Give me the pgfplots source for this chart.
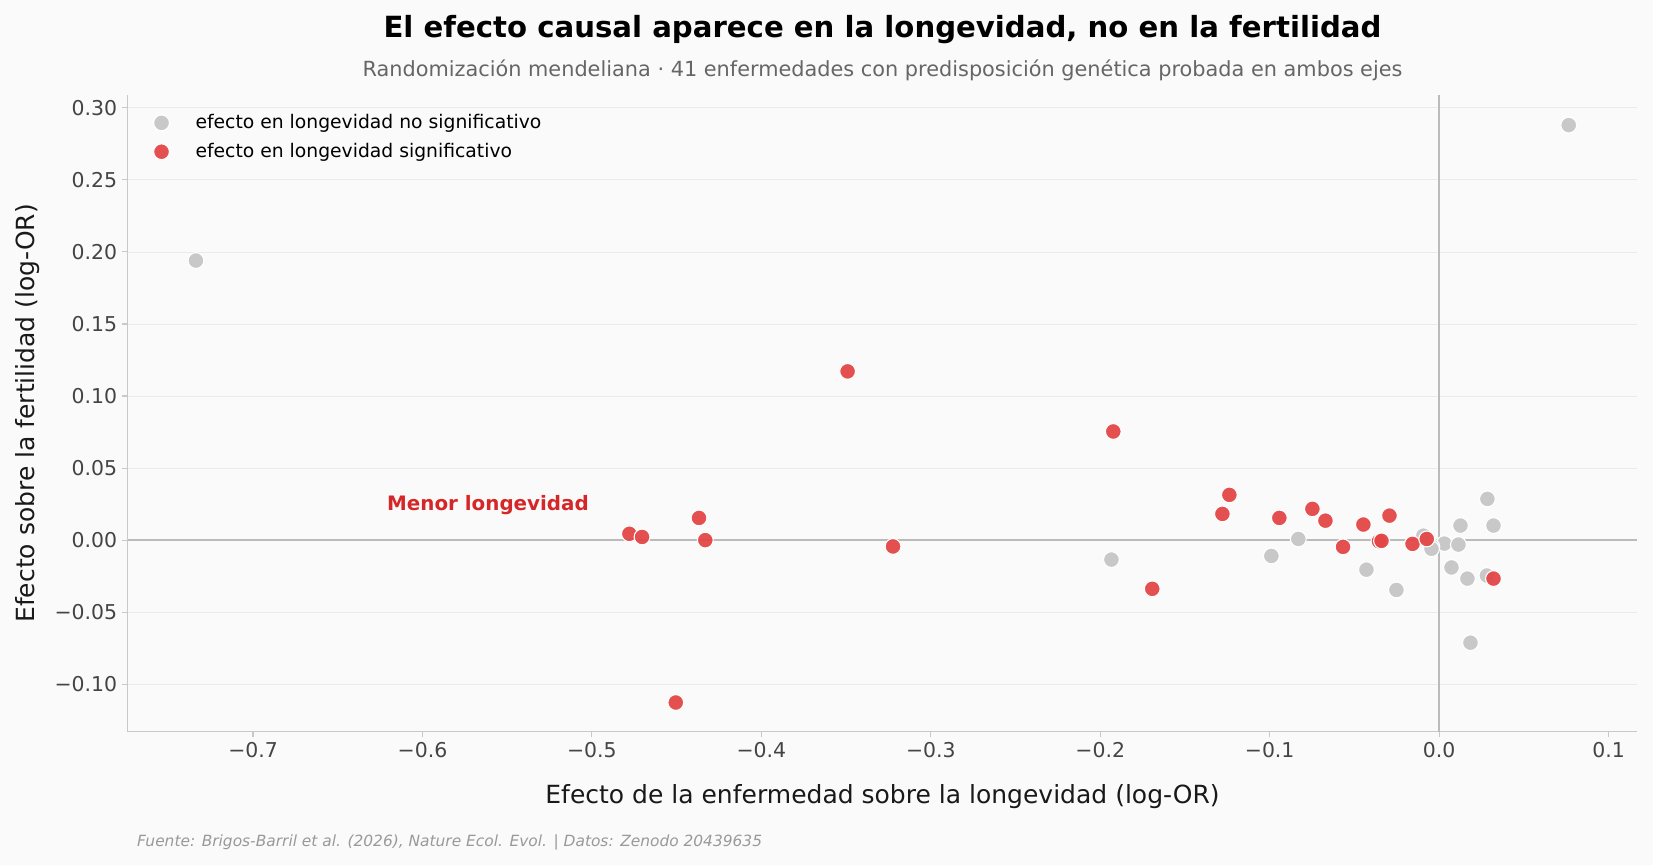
\documentclass[border=0pt]{standalone}
\usepackage{fontspec}
\setmainfont{DejaVu Sans}
\usepackage{pgfplots}
\pgfplotsset{compat=1.18}
\definecolor{bgc}{HTML}{FAFAFA}
\definecolor{redm}{HTML}{E34646}
\definecolor{graym}{HTML}{C8C8C8}
\definecolor{gridc}{HTML}{EBEBEB}
\definecolor{zeroc}{HTML}{BBBBBB}
\definecolor{spinec}{HTML}{C8C8C8}
\definecolor{tickc}{HTML}{444444}
\definecolor{annc}{HTML}{D62728}
\pgfplotstableread{
x y
-0.4779 0.0044
-0.4704 0.0022
-0.4368 0.0154
-0.4331 0.0000
-0.4505 -0.1127
-0.3491 0.1171
-0.3223 -0.0044
-0.1923 0.0754
-0.1693 -0.0338
-0.1238 0.0314
-0.1279 0.0182
-0.0943 0.0154
-0.0748 0.0217
-0.0671 0.0135
-0.0567 -0.0047
-0.0447 0.0108
-0.0293 0.0170
-0.0355 -0.0008
-0.0340 -0.0005
-0.0157 -0.0026
-0.0073 0.0008
0.0321 -0.0267
}\sigdata
\pgfplotstableread{
x y
-0.7337 0.1940
0.0765 0.2880
-0.1934 -0.0135
-0.0990 -0.0110
-0.0831 0.0008
-0.0429 -0.0205
-0.0252 -0.0346
0.0285 0.0286
0.0126 0.0101
0.0321 0.0101
0.0031 -0.0024
0.0114 -0.0031
-0.0043 -0.0045
-0.0045 -0.0060
-0.0093 0.0031
0.0073 -0.0190
0.0167 -0.0267
0.0282 -0.0246
0.0185 -0.0712
}\nsdata
\begin{document}
\begin{tikzpicture}
\fill[bgc] (0,0) rectangle (1190pt,622.8pt);
\path[use as bounding box] (0,0) rectangle (1190pt,622.8pt);
\begin{axis}[
  at={(91.9pt,96pt)}, anchor=south west,
  scale only axis, width=1086.9pt, height=458.5pt,
  xmin=-0.774, xmax=0.117, ymin=-0.133, ymax=0.309,
  axis lines=left, axis line style={-, spinec, line width=0.8pt},
  axis background/.style={fill=bgc},
  ymajorgrids, grid style={gridc, line width=0.6pt},
  xtick={-0.7,-0.6,-0.5,-0.4,-0.3,-0.2,-0.1,0,0.1},
  xticklabels={−0.7,−0.6,−0.5,−0.4,−0.3,−0.2,−0.1,0.0,0.1},
  ytick={-0.1,-0.05,0,0.05,0.1,0.15,0.2,0.25,0.3},
  yticklabels={−0.10,−0.05,0.00,0.05,0.10,0.15,0.20,0.25,0.30},
  tick label style={font=\fontsize{14.7}{17}\selectfont, text=tickc},
  tick style={spinec, line width=0.8pt},
  major tick length=4pt, tick align=outside,
  xlabel={Efecto de la enfermedad sobre la longevidad (log-OR)},
  ylabel={Efecto sobre la fertilidad (log-OR)},
  label style={font=\fontsize{18}{21}\selectfont, text=black!90},
  xlabel style={at={(0.5,-0.1126)}, anchor=base},
  ylabel style={at={(-0.0615,0.5)}, anchor=base},
  legend style={at={(0.0103,0.978)}, anchor=north west, draw=none, fill=none,
    font=\fontsize{13.5}{16}\selectfont, row sep=5pt},
  legend cell align=left,
  legend image code/.code={\path[draw=none,fill=none] (-10pt,0pt) (22.5pt,0pt); \draw[#1] plot coordinates {(0pt,0pt)};},
  clip=false,
]
\draw[zeroc, line width=1.3pt] (axis cs:0,-0.133) -- (axis cs:0,0.309);
\draw[zeroc, line width=1.3pt] (axis cs:-0.774,0) -- (axis cs:0.117,0);
\addplot[only marks, mark=*, mark size=5.7pt, mark options={fill=graym, draw=white, line width=0.8pt}] table[x=x,y=y] {\nsdata};
\addlegendentry{efecto en longevidad no significativo}
\addplot[only marks, mark=*, mark size=5.7pt, mark options={fill=redm, draw=white, line width=0.8pt, fill opacity=0.95}] table[x=x,y=y] {\sigdata};
\addlegendentry{efecto en longevidad significativo}
\node[anchor=west, text=annc, font=\fontsize{14.3}{16}\selectfont\bfseries, inner sep=0pt] at (axis cs:-0.621,0.024) {Menor longevidad};
\end{axis}
\node[font=\fontsize{21}{24}\selectfont\bfseries, anchor=base] at (635.3pt,596pt) {El efecto causal aparece en la longevidad, no en la fertilidad};
\node[font=\fontsize{15}{18}\selectfont, text=black!60, anchor=base] at (635.3pt,568pt) {Randomización mendeliana · 41 enfermedades con predisposición genética probada en ambos ejes};
\node[font=\fontsize{11.1}{13}\selectfont\itshape, text=black!40, anchor=base west, inner sep=0pt] at (98.6pt,13.5pt) {Fuente: Brigos-Barril et al. (2026), Nature Ecol. Evol. | Datos: Zenodo 20439635};
\end{tikzpicture}
\end{document}
